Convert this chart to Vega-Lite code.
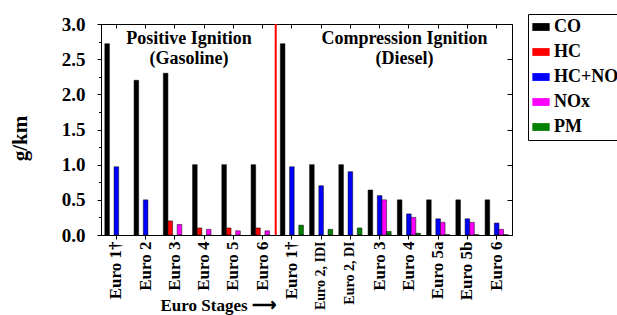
{
  "$schema": "https://vega.github.io/schema/vega-lite/v6.json",
  "width": 411,
  "height": 211,
  "autosize": {"type": "none"},
  "padding": {"left": 101, "top": 24, "right": 105, "bottom": 80},
  "background": "white",
  "config": {
    "view": {"stroke": "black", "strokeWidth": 1},
    "font": "Liberation Serif",
    "axis": {
      "labelFont": "Liberation Serif",
      "titleFont": "Liberation Serif",
      "labelFontWeight": "bold",
      "titleFontWeight": "bold",
      "labelColor": "black",
      "titleColor": "black",
      "domainColor": "black",
      "tickColor": "black",
      "grid": false
    },
    "legend": {
      "labelFont": "Liberation Serif",
      "labelFontWeight": "bold",
      "labelColor": "black"
    }
  },
  "data": {
    "values": [
      {"stage": "G-Euro 1†", "p": "CO", "v": 2.72},
      {"stage": "G-Euro 1†", "p": "HC+NOx", "v": 0.97},
      {"stage": "G-Euro 2", "p": "CO", "v": 2.2},
      {"stage": "G-Euro 2", "p": "HC+NOx", "v": 0.5},
      {"stage": "G-Euro 3", "p": "CO", "v": 2.3},
      {"stage": "G-Euro 3", "p": "HC", "v": 0.2},
      {"stage": "G-Euro 3", "p": "NOx", "v": 0.15},
      {"stage": "G-Euro 4", "p": "CO", "v": 1.0},
      {"stage": "G-Euro 4", "p": "HC", "v": 0.1},
      {"stage": "G-Euro 4", "p": "NOx", "v": 0.08},
      {"stage": "G-Euro 5", "p": "CO", "v": 1.0},
      {"stage": "G-Euro 5", "p": "HC", "v": 0.1},
      {"stage": "G-Euro 5", "p": "NOx", "v": 0.06},
      {"stage": "G-Euro 6", "p": "CO", "v": 1.0},
      {"stage": "G-Euro 6", "p": "HC", "v": 0.1},
      {"stage": "G-Euro 6", "p": "NOx", "v": 0.06},
      {"stage": "D-Euro 1†", "p": "CO", "v": 2.72},
      {"stage": "D-Euro 1†", "p": "HC+NOx", "v": 0.97},
      {"stage": "D-Euro 1†", "p": "PM", "v": 0.14},
      {"stage": "D-Euro 2, IDI", "p": "CO", "v": 1.0},
      {"stage": "D-Euro 2, IDI", "p": "HC+NOx", "v": 0.7},
      {"stage": "D-Euro 2, IDI", "p": "PM", "v": 0.08},
      {"stage": "D-Euro 2, DI", "p": "CO", "v": 1.0},
      {"stage": "D-Euro 2, DI", "p": "HC+NOx", "v": 0.9},
      {"stage": "D-Euro 2, DI", "p": "PM", "v": 0.1},
      {"stage": "D-Euro 3", "p": "CO", "v": 0.64},
      {"stage": "D-Euro 3", "p": "HC+NOx", "v": 0.56},
      {"stage": "D-Euro 3", "p": "NOx", "v": 0.5},
      {"stage": "D-Euro 3", "p": "PM", "v": 0.05},
      {"stage": "D-Euro 4", "p": "CO", "v": 0.5},
      {"stage": "D-Euro 4", "p": "HC+NOx", "v": 0.3},
      {"stage": "D-Euro 4", "p": "NOx", "v": 0.25},
      {"stage": "D-Euro 4", "p": "PM", "v": 0.025},
      {"stage": "D-Euro 5a", "p": "CO", "v": 0.5},
      {"stage": "D-Euro 5a", "p": "HC+NOx", "v": 0.23},
      {"stage": "D-Euro 5a", "p": "NOx", "v": 0.18},
      {"stage": "D-Euro 5a", "p": "PM", "v": 0.005},
      {"stage": "D-Euro 5b", "p": "CO", "v": 0.5},
      {"stage": "D-Euro 5b", "p": "HC+NOx", "v": 0.23},
      {"stage": "D-Euro 5b", "p": "NOx", "v": 0.18},
      {"stage": "D-Euro 5b", "p": "PM", "v": 0.005},
      {"stage": "D-Euro 6", "p": "CO", "v": 0.5},
      {"stage": "D-Euro 6", "p": "HC+NOx", "v": 0.17},
      {"stage": "D-Euro 6", "p": "NOx", "v": 0.08},
      {"stage": "D-Euro 6", "p": "PM", "v": 0.005}
    ]
  },
  "layer": [
    {
      "mark": {"type": "bar", "stroke": "black", "strokeWidth": 0.5},
      "encoding": {
        "x": {
          "field": "stage",
          "type": "nominal",
          "scale": {
            "domain": ["G-Euro 1†", "G-Euro 2", "G-Euro 3", "G-Euro 4", "G-Euro 5", "G-Euro 6", "D-Euro 1†", "D-Euro 2, IDI", "D-Euro 2, DI", "D-Euro 3", "D-Euro 4", "D-Euro 5a", "D-Euro 5b", "D-Euro 6"],
            "paddingInner": 0.21,
            "paddingOuter": 0.13
          },
          "axis": {
            "orient": "bottom",
            "labelExpr": "slice(datum.label, 2)",
            "labelAngle": -90,
            "labelFontSize": {"condition": {"test": "indexof(datum.label, ',') >= 0", "value": 14}, "value": 17},
            "labelPadding": 2,
            "tickSize": 4,
            "domain": true,
            "title": "Euro Stages ⟶",
            "titleFontSize": 17,
            "titleX": 59,
            "titleY": 75,
            "titleAlign": "left",
            "titleBaseline": "alphabetic",
            "titleAnchor": null
          }
        },
        "xOffset": {
          "field": "p",
          "type": "nominal",
          "scale": {"domain": ["CO", "HC", "HC+NOx", "NOx", "PM"], "paddingInner": 0, "paddingOuter": 0}
        },
        "y": {
          "field": "v",
          "type": "quantitative",
          "scale": {"domain": [0, 3], "nice": false},
          "axis": {
            "orient": "left",
            "values": [0, 0.5, 1, 1.5, 2, 2.5, 3],
            "format": ".1f",
            "labelFontSize": 19,
            "labelPadding": 12,
            "tickSize": 4,
            "title": "g/km",
            "titleFontSize": 21,
            "titleAngle": -90,
            "titleX": -81,
            "titleY": 114,
            "titleAlign": "center",
            "titleBaseline": "middle"
          }
        },
        "color": {
          "field": "p",
          "type": "nominal",
          "scale": {"domain": ["CO", "HC", "HC+NOx", "NOx", "PM"], "range": ["#000000", "#ff0000", "#0000ff", "#ff00ff", "#008000"]},
          "legend": {
            "title": null,
            "orient": "none",
            "legendX": 427,
            "legendY": -10,
            "strokeColor": "black",
            "padding": 4,
            "labelFontSize": 18,
            "labelOffset": 4,
            "rowPadding": 7,
            "symbolType": "M-1,-0.45H1V0.45H-1Z",
            "symbolSize": 300,
            "symbolStrokeWidth": 0
          }
        }
      }
    },
    {
      "data": {"values": [{"stage": "G-Euro 6"}]},
      "mark": {"type": "rule", "color": "#ff0000", "strokeWidth": 2},
      "encoding": {
        "x": {
          "field": "stage",
          "type": "nominal",
          "bandPosition": 1.067,
          "axis": {"orient": "top", "labels": false, "domain": false, "tickSize": -4, "title": null}
        }
      }
    },
    {
      "data": {"values": [{"stage": "G-Euro 3", "v": 2.92, "t": ["Positive Ignition", "(Gasoline)"]}]},
      "mark": {"type": "text", "font": "Liberation Serif", "fontWeight": "bold", "fontSize": 18, "lineHeight": 20, "baseline": "top", "align": "center", "color": "black"},
      "encoding": {
        "x": {"field": "stage", "type": "nominal", "bandPosition": 1.11, "axis": null},
        "y": {
          "field": "v",
          "type": "quantitative",
          "axis": {"orient": "right", "values": [0, 0.5, 1, 1.5, 2, 2.5, 3], "labels": false, "domain": false, "tickSize": -5, "title": null}
        },
        "text": {"field": "t"}
      }
    },
    {
      "data": {"values": [{"stage": "D-Euro 4", "v": 2.92, "t": ["Compression Ignition", "(Diesel)"]}]},
      "mark": {"type": "text", "font": "Liberation Serif", "fontWeight": "bold", "fontSize": 18, "lineHeight": 20, "baseline": "top", "align": "center", "color": "black"},
      "encoding": {
        "x": {"field": "stage", "type": "nominal", "bandPosition": 0.31, "axis": null},
        "y": {
          "field": "v",
          "type": "quantitative",
          "axis": {"orient": "left", "values": [0.25, 0.75, 1.25, 1.75, 2.25, 2.75], "labels": false, "domain": false, "tickSize": 2.5, "title": null}
        },
        "text": {"field": "t"}
      }
    }
  ],
  "resolve": {"axis": {"x": "independent", "y": "independent"}}
}
